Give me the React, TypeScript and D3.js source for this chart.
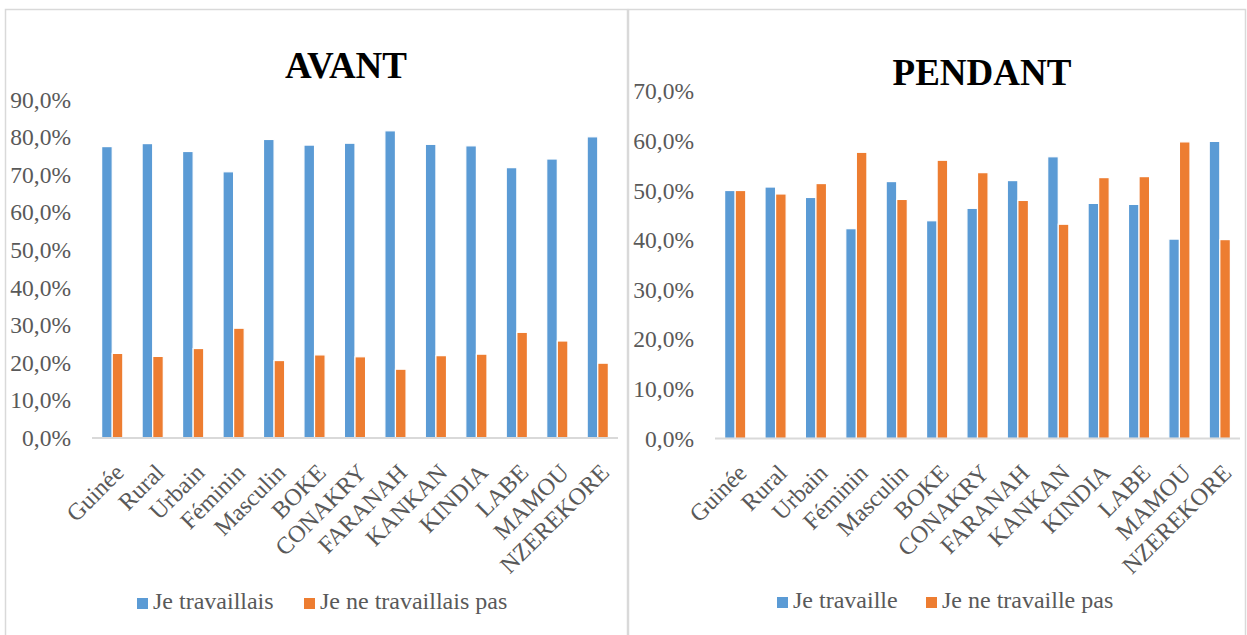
import { useEffect, useRef } from 'react';
import * as d3 from 'd3';

const categories = ['Guinée', 'Rural', 'Urbain', 'Féminin', 'Masculin', 'BOKE', 'CONAKRY', 'FARANAH', 'KANKAN', 'KINDIA', 'LABE', 'MAMOU', 'NZEREKORE'];

// AVANT
const avantTravail = [0.775, 0.783, 0.762, 0.708, 0.794, 0.779, 0.784, 0.817, 0.781, 0.777, 0.719, 0.742, 0.801];
const avantPasTravail = [0.225, 0.217, 0.238, 0.292, 0.206, 0.221, 0.216, 0.183, 0.219, 0.223, 0.281, 0.258, 0.199];
const avantSeries = ['Je travaillais', 'Je ne travaillais pas'];

// PENDANT
const pendantTravail = [0.5, 0.507, 0.486, 0.423, 0.518, 0.439, 0.464, 0.52, 0.568, 0.474, 0.472, 0.402, 0.599];
const pendantPasTravail = [0.5, 0.493, 0.514, 0.577, 0.482, 0.561, 0.536, 0.48, 0.432, 0.526, 0.528, 0.598, 0.401];
const pendantSeries = ['Je travaille', 'Je ne travaille pas'];

const avantTicks = [0, 0.1, 0.2, 0.3, 0.4, 0.5, 0.6, 0.7, 0.8, 0.9];
const pendantTicks = [0, 0.1, 0.2, 0.3, 0.4, 0.5, 0.6, 0.7];

const COLORS = ['#5B9BD5', '#ED7D31'];
const FONT = '"Liberation Serif", "Times New Roman", serif';
const GRAY = '#595959';

const fr = d3.formatLocale({ decimal: ',', thousands: ' ', grouping: [3], currency: ['', '€'] });
const pct = fr.format('.1%');

interface PanelCfg {
  title: string;
  titleX: number;
  titleY: number;
  left: number;
  right: number;
  bottom: number;
  top: number;
  ticks: number[];
  series: string[];
  values: number[][];
  legendX: number[];
  legendY: number;
}

function drawPanel(svg: d3.Selection<SVGSVGElement, unknown, null, undefined>, cfg: PanelCfg) {
  const g = svg.append('g');

  const x0 = d3.scaleBand<string>().domain(categories).range([cfg.left, cfg.right]).padding(0);
  const x1 = d3.scaleBand<number>().domain([0, 1]).range([0, x0.bandwidth()]).paddingInner(0).paddingOuter(0.91);
  const y = d3.scaleLinear().domain([0, d3.max(cfg.ticks) as number]).range([cfg.bottom, cfg.top]);

  g.append('text')
    .attr('x', cfg.titleX)
    .attr('y', cfg.titleY)
    .attr('text-anchor', 'middle')
    .attr('font-family', FONT)
    .attr('font-weight', 'bold')
    .attr('font-size', 37)
    .attr('fill', '#000')
    .text(cfg.title);

  g.append('g')
    .attr('transform', `translate(${cfg.left},0)`)
    .attr('font-family', FONT)
    .call(d3.axisLeft(y).tickValues(cfg.ticks).tickFormat((d) => pct(d as number)).tickSize(0).tickPadding(21))
    .call((a) => a.select('.domain').remove())
    .call((a) => a.selectAll('text').attr('font-family', FONT).attr('font-size', 23.5).attr('fill', GRAY));

  cfg.values.forEach((vals, si) => {
    g.append('g')
      .selectAll('rect')
      .data(vals)
      .join('rect')
      .attr('x', (_, i) => (x0(categories[i]) as number) + (x1(si) as number))
      .attr('y', (d) => y(d))
      .attr('width', x1.bandwidth())
      .attr('height', (d) => y(0) - y(d))
      .attr('fill', COLORS[si])
      .attr('stroke', '#fff')
      .attr('stroke-width', 1.2);
  });

  g.append('line')
    .attr('x1', cfg.left)
    .attr('x2', cfg.right)
    .attr('y1', y(0))
    .attr('y2', y(0))
    .attr('stroke', '#D9D9D9')
    .attr('stroke-width', 1.8);

  // rotated category labels
  g.append('g')
    .selectAll('text')
    .data(categories)
    .join('text')
    .attr('transform', (d) => `translate(${(x0(d) as number) + x0.bandwidth() / 2 + 7},${cfg.bottom + 30}) rotate(-45)`)
    .attr('text-anchor', 'end')
    .attr('dy', '0.35em')
    .attr('font-family', FONT)
    .attr('font-size', 24)
    .attr('fill', GRAY)
    .text((d) => d);

  cfg.series.forEach((s, i) => {
    g.append('rect')
      .attr('x', cfg.legendX[i])
      .attr('y', cfg.legendY - 11)
      .attr('width', 11)
      .attr('height', 11)
      .attr('fill', COLORS[i]);
    g.append('text')
      .attr('x', cfg.legendX[i] + 16)
      .attr('y', cfg.legendY)
      .attr('font-family', FONT)
      .attr('font-size', 24)
      .attr('fill', GRAY)
      .text(s);
  });
}

export default function App() {
  const svgRef = useRef<SVGSVGElement>(null);

  useEffect(() => {
    if (!svgRef.current) return;
    const svg = d3.select(svgRef.current);
    svg.selectAll('*').remove();

    svg.append('rect').attr('width', 1247).attr('height', 635).attr('fill', '#fff');
    svg.append('rect')
      .attr('x', 5.5).attr('y', 9.5).attr('width', 622).attr('height', 660)
      .attr('fill', 'none').attr('stroke', '#D9D9D9').attr('stroke-width', 1.5);
    svg.append('rect')
      .attr('x', 628.5).attr('y', 9.5).attr('width', 617).attr('height', 660)
      .attr('fill', 'none').attr('stroke', '#D9D9D9').attr('stroke-width', 1.5);

    drawPanel(svg, {
      title: 'AVANT',
      titleX: 346,
      titleY: 78,
      left: 92,
      right: 618,
      bottom: 438,
      top: 99.6,
      ticks: avantTicks,
      series: avantSeries,
      values: [avantTravail, avantPasTravail],
      legendX: [137, 304],
      legendY: 609,
    });

    drawPanel(svg, {
      title: 'PENDANT',
      titleX: 982,
      titleY: 85,
      left: 715,
      right: 1240,
      bottom: 438.5,
      top: 91.3,
      ticks: pendantTicks,
      series: pendantSeries,
      values: [pendantTravail, pendantPasTravail],
      legendX: [777, 926],
      legendY: 608,
    });
  }, []);

  return (
    <svg
      ref={svgRef}
      width={1247}
      height={635}
      style={{ position: 'absolute', left: 0, top: 0, display: 'block' }}
    />
  );
}
